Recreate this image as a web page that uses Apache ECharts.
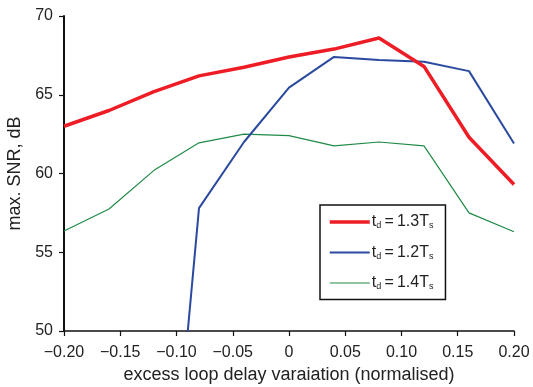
<!DOCTYPE html>
<html>
<head>
<meta charset="utf-8">
<script src="https://cdn.jsdelivr.net/npm/echarts@6/dist/echarts.min.js"></script>
<style>
  html, body { margin: 0; padding: 0; background: #fff; }
  #chart { width: 533px; height: 387px; }
</style>
</head>
<body>
<div id="chart"></div>
<script>
const delays = [-0.20, -0.16, -0.12, -0.08, -0.04, 0, 0.04, 0.08, 0.12, 0.16, 0.20]
const snr13 = [63.0, 64.0, 65.2, 66.2, 66.75, 67.4, 67.9, 68.6, 66.8, 62.3, 59.3]
const snr12 = [null, null, 26.5, 57.8, 62.0, 65.45, 67.4, 67.2, 67.1, 66.5, 61.9]
const snr14 = [56.35, 57.75, 60.2, 61.95, 62.5, 62.4, 61.75, 62.0, 61.75, 57.5, 56.3]
const names = ['1.3', '1.2', '1.4']

const pairs = (ys) => delays.map((x, i) => [x, ys[i]])
const fmtX = (v) => {
  if (Math.abs(v) < 1e-9) return '0'
  return (v < 0 ? '\u2212' : '') + Math.abs(v).toFixed(2)
}
const legendName = (n) => '{t|t}{sub|d}{t|\u2009=\u2009' + n + 'T}{sub|s}'

const chart = echarts.init(document.getElementById('chart'), null, { renderer: 'canvas' })
const font = 'Liberation Sans, Arial, sans-serif'
const colors = ['#ee1c24', '#2b4a9f', '#1f8a47']
const widths = [3.5, 2, 1.2]

chart.setOption({
  animation: false,
  backgroundColor: '#fff',
  textStyle: { fontFamily: font },
  grid: { left: 64, right: 19, top: 16, bottom: 56, containLabel: false, outerBoundsMode: 'none' },
  legend: {
    orient: 'vertical',
    left: 320,
    top: 205,
    width: 125,
    padding: [9, 12, 8, 8],
    borderColor: '#111',
    borderWidth: 1.5,
    itemWidth: 40,
    itemHeight: 14,
    itemGap: 14,
    itemStyle: { opacity: 0 },
    data: ['a', 'b', 'c'].map((n, i) => ({ name: n, lineStyle: { width: widths[i], color: colors[i] } })),
    formatter: (n) => legendName(names[['a', 'b', 'c'].indexOf(n)]),
    textStyle: {
      fontFamily: font,
      padding: [0, 0, 0, -3],
      rich: {
        t: { fontSize: 16, color: '#222', fontFamily: font },
        sub: { fontSize: 9, color: '#222', fontFamily: font, padding: [8, 0, 0, 0] }
      }
    }
  },
  xAxis: {
    type: 'value',
    min: -0.2,
    max: 0.2,
    interval: 0.05,
    name: 'excess loop delay varaiation (normalised)',
    nameLocation: 'middle',
    nameGap: 35,
    nameTextStyle: { fontSize: 18, color: '#222', fontFamily: font },
    axisLine: { onZero: false, lineStyle: { color: '#111', width: 1.5 } },
    axisTick: { show: true, inside: false, length: 5, lineStyle: { color: '#111', width: 1.2 } },
    axisLabel: { fontSize: 16, color: '#222', margin: 14, formatter: fmtX, fontFamily: font },
    splitLine: { show: false }
  },
  yAxis: {
    type: 'value',
    min: 50,
    max: 70,
    interval: 5,
    name: 'max. SNR, dB',
    nameLocation: 'middle',
    nameGap: 32,
    nameTextStyle: { fontSize: 18, color: '#222', fontFamily: font },
    axisLine: { show: true, onZero: false, lineStyle: { color: '#111', width: 2 } },
    axisTick: { show: true, inside: false, length: 5, lineStyle: { color: '#111', width: 1.2 } },
    axisLabel: { fontSize: 16, color: '#222', margin: 11, fontFamily: font },
    splitLine: { show: false }
  },
  series: [snr13, snr12, snr14].map((ys, i) => ({
    name: ['a', 'b', 'c'][i],
    type: 'line',
    data: pairs(ys),
    symbol: 'none',
    clip: true,
    z: 4 - i,
    lineStyle: { color: colors[i], width: widths[i] },
    itemStyle: { color: colors[i] }
  }))
})
</script>
</body>
</html>
